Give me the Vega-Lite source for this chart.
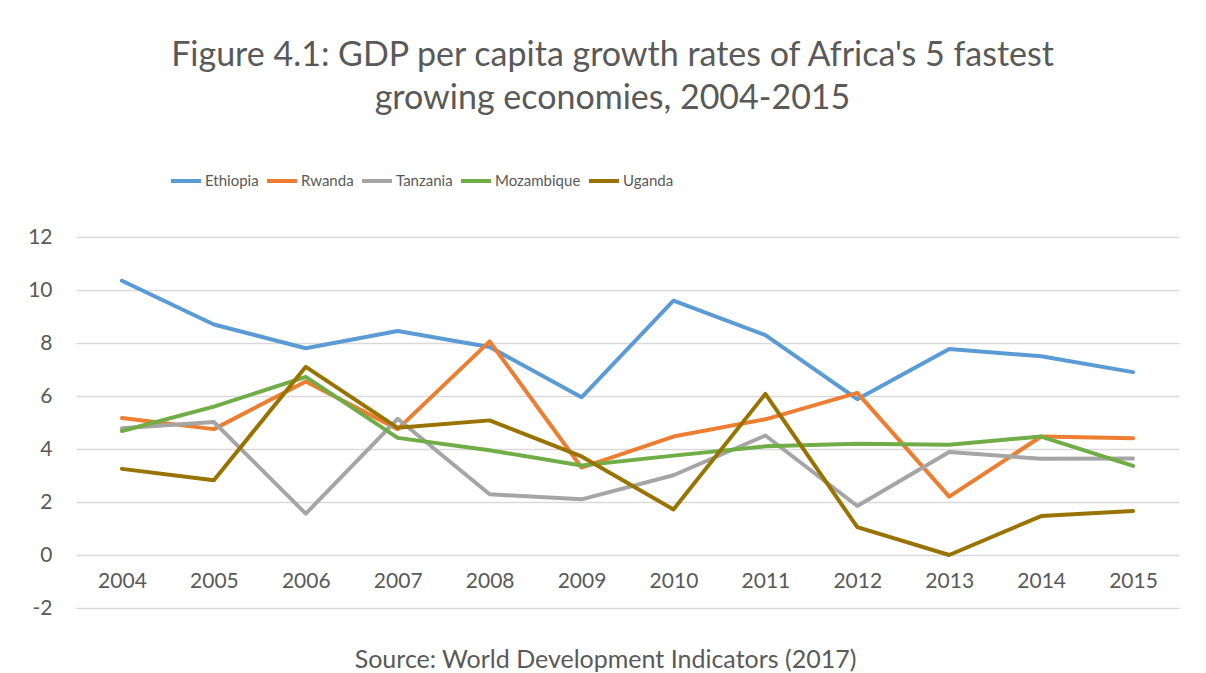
{
  "$schema": "https://vega.github.io/schema/vega-lite/v6.json",
  "autosize": "none",
  "width": 1103,
  "height": 371,
  "padding": {"left": 76, "top": 237, "right": 27, "bottom": 65},
  "background": "white",
  "title": {
    "text": ["Figure 4.1: GDP per capita growth rates of Africa's 5 fastest", "growing economies, 2004-2015"],
    "anchor": "middle",
    "frame": "group",
    "dx": -15,
    "offset": 48,
    "font": "Lato",
    "fontSize": 34,
    "fontWeight": "normal",
    "color": "#595959",
    "lineHeight": 43
  },
  "data": {
    "values": [
      {"country": "Ethiopia", "year": "2004", "value": 10.35},
      {"country": "Ethiopia", "year": "2005", "value": 8.7},
      {"country": "Ethiopia", "year": "2006", "value": 7.8},
      {"country": "Ethiopia", "year": "2007", "value": 8.45},
      {"country": "Ethiopia", "year": "2008", "value": 7.85},
      {"country": "Ethiopia", "year": "2009", "value": 5.95},
      {"country": "Ethiopia", "year": "2010", "value": 9.6},
      {"country": "Ethiopia", "year": "2011", "value": 8.3},
      {"country": "Ethiopia", "year": "2012", "value": 5.88},
      {"country": "Ethiopia", "year": "2013", "value": 7.77},
      {"country": "Ethiopia", "year": "2014", "value": 7.5},
      {"country": "Ethiopia", "year": "2015", "value": 6.9},
      {"country": "Rwanda", "year": "2004", "value": 5.17},
      {"country": "Rwanda", "year": "2005", "value": 4.75},
      {"country": "Rwanda", "year": "2006", "value": 6.55},
      {"country": "Rwanda", "year": "2007", "value": 4.75},
      {"country": "Rwanda", "year": "2008", "value": 8.06},
      {"country": "Rwanda", "year": "2009", "value": 3.3},
      {"country": "Rwanda", "year": "2010", "value": 4.47},
      {"country": "Rwanda", "year": "2011", "value": 5.12},
      {"country": "Rwanda", "year": "2012", "value": 6.12},
      {"country": "Rwanda", "year": "2013", "value": 2.2},
      {"country": "Rwanda", "year": "2014", "value": 4.47},
      {"country": "Rwanda", "year": "2015", "value": 4.41},
      {"country": "Tanzania", "year": "2004", "value": 4.78},
      {"country": "Tanzania", "year": "2005", "value": 5.02},
      {"country": "Tanzania", "year": "2006", "value": 1.56},
      {"country": "Tanzania", "year": "2007", "value": 5.14},
      {"country": "Tanzania", "year": "2008", "value": 2.29},
      {"country": "Tanzania", "year": "2009", "value": 2.1},
      {"country": "Tanzania", "year": "2010", "value": 3.01},
      {"country": "Tanzania", "year": "2011", "value": 4.51},
      {"country": "Tanzania", "year": "2012", "value": 1.85},
      {"country": "Tanzania", "year": "2013", "value": 3.89},
      {"country": "Tanzania", "year": "2014", "value": 3.63},
      {"country": "Tanzania", "year": "2015", "value": 3.64},
      {"country": "Mozambique", "year": "2004", "value": 4.68},
      {"country": "Mozambique", "year": "2005", "value": 5.6},
      {"country": "Mozambique", "year": "2006", "value": 6.72},
      {"country": "Mozambique", "year": "2007", "value": 4.42},
      {"country": "Mozambique", "year": "2008", "value": 3.95},
      {"country": "Mozambique", "year": "2009", "value": 3.38},
      {"country": "Mozambique", "year": "2010", "value": 3.75},
      {"country": "Mozambique", "year": "2011", "value": 4.1},
      {"country": "Mozambique", "year": "2012", "value": 4.2},
      {"country": "Mozambique", "year": "2013", "value": 4.16},
      {"country": "Mozambique", "year": "2014", "value": 4.47},
      {"country": "Mozambique", "year": "2015", "value": 3.36},
      {"country": "Uganda", "year": "2004", "value": 3.25},
      {"country": "Uganda", "year": "2005", "value": 2.82},
      {"country": "Uganda", "year": "2006", "value": 7.1},
      {"country": "Uganda", "year": "2007", "value": 4.8},
      {"country": "Uganda", "year": "2008", "value": 5.08},
      {"country": "Uganda", "year": "2009", "value": 3.72},
      {"country": "Uganda", "year": "2010", "value": 1.72},
      {"country": "Uganda", "year": "2011", "value": 6.08},
      {"country": "Uganda", "year": "2012", "value": 1.05},
      {"country": "Uganda", "year": "2013", "value": 0.0},
      {"country": "Uganda", "year": "2014", "value": 1.47},
      {"country": "Uganda", "year": "2015", "value": 1.66}
    ]
  },
  "mark": {"type": "line", "strokeWidth": 4, "strokeCap": "round", "strokeJoin": "round"},
  "encoding": {
    "x": {
      "field": "year",
      "type": "ordinal",
      "scale": {"type": "point", "padding": 0.5},
      "axis": {
        "offset": -53.3,
        "domain": false,
        "ticks": false,
        "labelAngle": 0,
        "labelFont": "Lato",
        "labelFontSize": 21,
        "labelColor": "#595959",
        "labelPadding": 16,
        "labelBaseline": "top",
        "title": "Source: World Development Indicators (2017)",
        "titleFont": "Lato",
        "titleFontSize": 25,
        "titleFontWeight": "normal",
        "titleColor": "#595959",
        "titleX": 529,
        "titleY": 105,
        "titleAlign": "center",
        "titleBaseline": "middle",
        "titleAnchor": null
      }
    },
    "y": {
      "field": "value",
      "type": "quantitative",
      "scale": {"domain": [-2, 12], "nice": false, "zero": false},
      "axis": {
        "values": [-2, 0, 2, 4, 6, 8, 10, 12],
        "labelExpr": "datum.value < 0 ? '-' + (-datum.value) : '' + datum.value",
        "domain": false,
        "ticks": false,
        "grid": true,
        "gridColor": "#d9d9d9",
        "gridWidth": 1.5,
        "labelFont": "Lato",
        "labelFontSize": 21,
        "labelColor": "#595959",
        "labelPadding": 24,
        "title": null
      }
    },
    "color": {
      "field": "country",
      "type": "nominal",
      "sort": ["Ethiopia", "Rwanda", "Tanzania", "Mozambique", "Uganda"],
      "scale": {
        "domain": ["Ethiopia", "Rwanda", "Tanzania", "Mozambique", "Uganda"],
        "range": ["#5B9BD5", "#ED7D31", "#A5A5A5", "#70AD47", "#997300"]
      },
      "legend": {
        "orient": "none",
        "legendX": 93,
        "legendY": -73,
        "direction": "horizontal",
        "title": null,
        "symbolType": "stroke",
        "symbolSize": 900,
        "symbolStrokeWidth": 4,
        "labelFont": "Lato",
        "labelFontSize": 15,
        "labelColor": "#595959",
        "labelOffset": 2,
        "columnPadding": 0
      }
    }
  },
  "config": {
    "view": {"stroke": null}
  }
}
